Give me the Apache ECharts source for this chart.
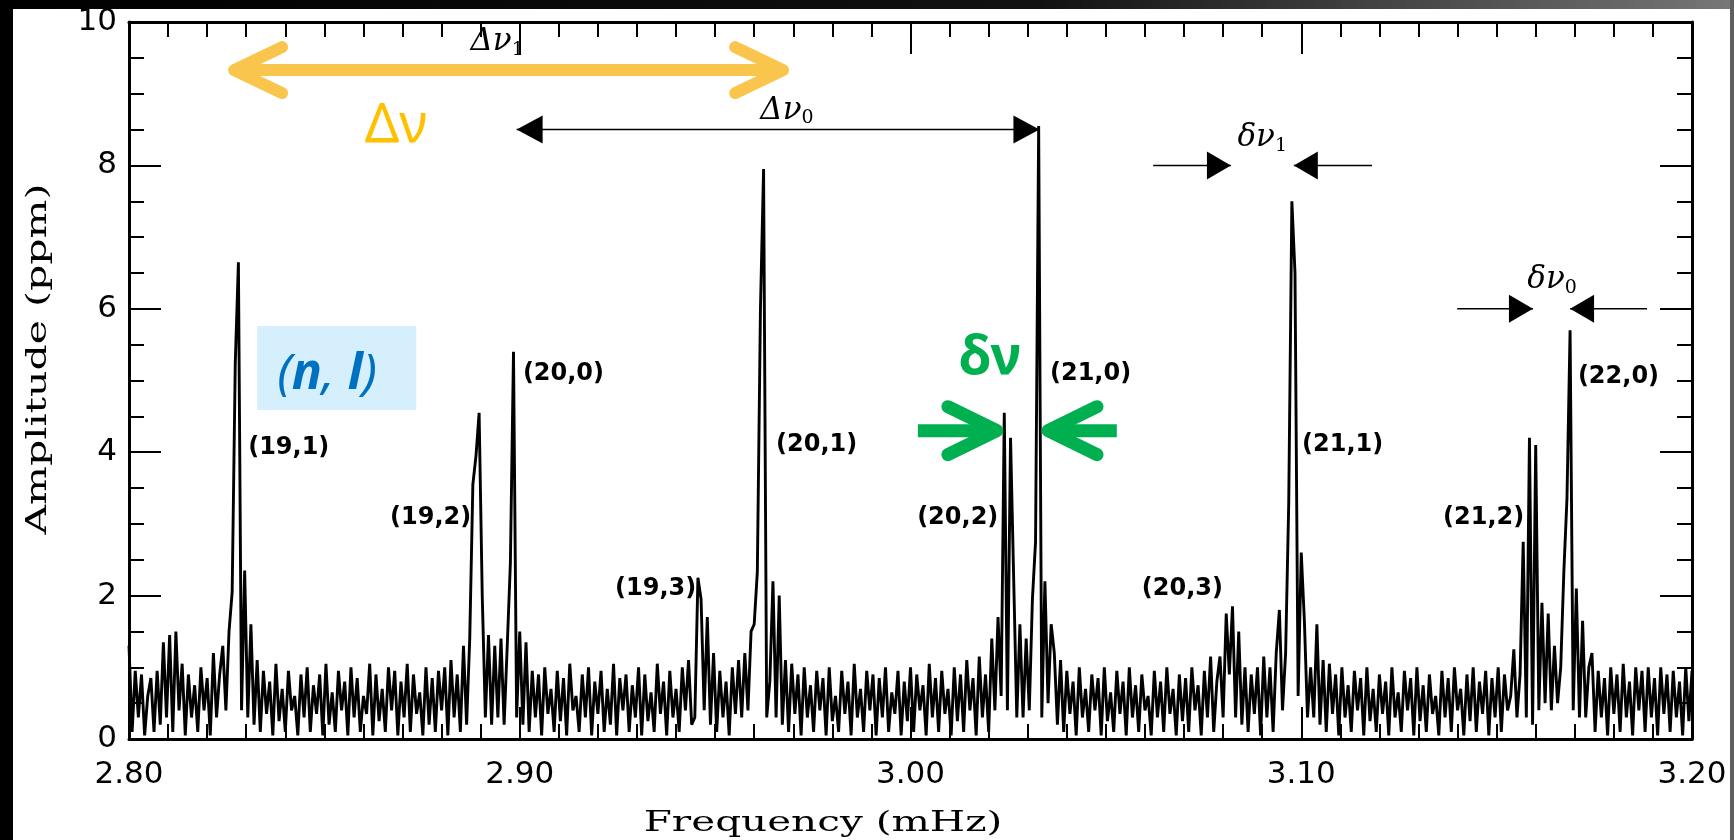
<!DOCTYPE html>
<html>
<head>
<meta charset="utf-8">
<script src="https://cdn.jsdelivr.net/npm/echarts@6/dist/echarts.min.js"></script>
<style>
  html, body { margin: 0; padding: 0; background: #000; }
  #chart { width: 1734px; height: 840px; }
</style>
</head>
<body>
<div id="chart"></div>
<script>
// frequency grid (mHz) and amplitude spectrum (ppm)
const freqStart = 2.80;
const freqStep = 0.0008;
const amplitude = [
  1.3, 0.1, 0.95, 0.3, 0.9, 0.05, 0.6, 0.85, 0.1, 0.95,
  0.2, 1.35, 0.3, 1.45, 0.1, 1.5, 0.4, 1.05, 0.05, 0.9,
  0.3, 0.75, 0.1, 1.0, 0.4, 0.85, 0.05, 1.2, 0.3, 0.9,
  1.3, 0.4, 1.5, 2.05, 5.25, 6.65, 0.4, 2.35, 0.3, 1.6,
  0.2, 1.1, 0.1, 0.95, 0.35, 0.8, 0.05, 1.05, 0.25, 0.7,
  0.1, 0.95, 0.4, 0.6, 0.05, 0.9, 0.3, 1.0, 0.1, 0.75,
  0.35, 0.9, 0.05, 1.05, 0.2, 0.65, 0.1, 0.95, 0.4, 0.8,
  0.05, 1.0, 0.3, 0.85, 0.1, 0.6, 0.35, 1.05, 0.05, 0.9,
  0.25, 0.7, 0.1, 1.0, 0.4, 0.95, 0.05, 0.8, 0.3, 1.05,
  0.1, 0.9, 0.35, 0.65, 0.05, 1.0, 0.2, 0.85, 0.1, 0.95,
  0.4, 1.0, 0.05, 1.1, 0.3, 0.9, 0.1, 1.3, 0.2, 1.4,
  3.55, 3.95, 4.55, 2.0, 0.3, 1.45, 0.2, 1.3, 0.3, 1.4,
  0.2, 1.3, 2.45, 5.4, 0.3, 1.5, 0.2, 1.35, 0.1, 0.95,
  0.3, 0.9, 0.05, 1.0, 0.35, 0.7, 0.1, 0.95, 0.25, 0.85,
  0.05, 1.05, 0.4, 0.6, 0.1, 0.9, 0.3, 1.0, 0.05, 0.8,
  0.35, 0.95, 0.1, 0.7, 0.2, 1.05, 0.05, 0.85, 0.4, 0.9,
  0.1, 0.75, 0.3, 1.0, 0.05, 0.9, 0.25, 0.65, 0.1, 1.05,
  0.35, 0.8, 0.05, 0.95, 0.3, 0.7, 0.1, 1.0, 0.4, 1.1,
  0.2, 0.3, 2.25, 1.95, 0.4, 1.7, 0.2, 1.2, 0.1, 0.95,
  0.3, 0.8, 0.05, 1.0, 0.35, 1.1, 0.3, 1.2, 0.4, 1.5,
  1.6, 2.33, 6.0, 7.95, 0.3, 0.8, 2.2, 0.3, 2.0, 0.2,
  1.1, 0.1, 1.05, 0.35, 0.9, 0.05, 1.0, 0.3, 0.75, 0.1,
  0.95, 0.4, 0.85, 0.05, 1.0, 0.25, 0.6, 0.1, 0.95, 0.35,
  0.8, 0.05, 1.05, 0.3, 0.7, 0.1, 0.95, 0.4, 0.9, 0.05,
  0.85, 0.3, 1.0, 0.1, 0.65, 0.35, 0.95, 0.05, 0.8, 0.25,
  1.0, 0.1, 0.9, 0.4, 0.75, 0.05, 1.05, 0.3, 0.85, 0.1,
  0.95, 0.35, 0.7, 0.05, 1.0, 0.25, 0.9, 0.1, 1.1, 0.4,
  0.85, 0.05, 1.15, 0.3, 0.9, 0.1, 1.4, 0.4, 1.7, 0.6,
  4.55, 0.4, 4.2, 2.25, 0.3, 1.6, 0.3, 1.4, 0.4, 1.95,
  2.75, 8.55, 0.3, 2.2, 0.5, 1.6, 1.2, 0.2, 1.1, 0.1,
  0.95, 0.35, 0.8, 0.05, 1.0, 0.3, 0.7, 0.1, 0.9, 0.4,
  0.85, 0.05, 1.0, 0.25, 0.65, 0.1, 0.95, 0.35, 0.8, 0.05,
  1.0, 0.3, 0.75, 0.1, 0.9, 0.4, 0.6, 0.05, 0.95, 0.3,
  0.8, 0.1, 1.0, 0.35, 0.7, 0.05, 0.9, 0.25, 0.85, 0.1,
  1.0, 0.4, 0.75, 0.05, 0.95, 0.3, 1.15, 0.1, 0.8, 1.15,
  0.3, 1.75, 0.9, 1.85, 0.3, 1.5, 0.2, 1.0, 0.1, 0.9,
  0.35, 1.0, 0.05, 1.15, 0.3, 1.0, 0.1, 1.2, 1.8, 0.4,
  1.2, 3.3, 7.5, 6.5, 0.6, 2.6, 1.65, 0.3, 1.0, 0.3,
  1.6, 0.2, 1.1, 0.1, 1.05, 0.35, 0.9, 0.05, 1.0, 0.3,
  0.75, 0.1, 0.95, 0.4, 0.85, 0.05, 1.0, 0.25, 0.7, 0.1,
  0.9, 0.35, 0.8, 0.05, 1.0, 0.3, 0.65, 0.1, 0.95, 0.4,
  0.85, 0.05, 1.0, 0.25, 0.75, 0.1, 0.9, 0.35, 0.6, 0.05,
  0.95, 0.3, 0.85, 0.1, 1.0, 0.4, 0.7, 0.05, 0.9, 0.25,
  1.0, 0.1, 0.8, 0.35, 0.95, 0.05, 0.85, 0.3, 1.0, 0.1,
  0.9, 0.4, 0.6, 1.25, 0.3, 0.9, 2.75, 0.3, 4.2, 0.2,
  4.1, 0.4, 1.9, 0.5, 1.75, 0.4, 1.3, 0.5, 1.0, 2.33,
  3.35, 5.7, 0.4, 2.1, 0.3, 1.65, 0.3, 1.0, 1.2, 0.1,
  0.95, 0.3, 0.85, 0.05, 1.0, 0.35, 0.9, 0.1, 1.05, 0.3,
  0.8, 0.05, 1.0, 0.4, 0.95, 0.1, 1.0, 0.3, 0.85, 0.05,
  1.0, 0.35, 0.9, 0.1, 0.95, 0.3, 0.8, 0.05, 1.0, 0.25,
  0.95
];

// mode labels (n,l) and where they sit (frequency, amplitude)
const modeLabels = ['(19,1)', '(19,2)', '(20,0)', '(19,3)', '(20,1)', '(20,2)', '(21,0)', '(20,3)', '(21,1)', '(21,2)', '(22,0)'];
const modeLabelFreq = [2.8305, 2.8668, 2.9008, 2.9244, 2.9656, 3.0017, 3.0357, 3.0592, 3.1002, 3.1363, 3.1708];
const modeLabelAmp = [4.06, 3.08, 5.10, 2.09, 4.10, 3.08, 5.10, 2.09, 4.10, 3.08, 5.05];

// separation markers
const bigSepFreq = [2.8992, 3.0330];      // Δν0 arrow ends
const bigSepAmp = 8.5;
const bigSep1Freq = [2.8269, 2.9674];     // Δν1 / orange Δν arrow ends
const bigSep1Amp = 9.33;
const small1Freq = [3.0621, 3.0820, 3.0981, 3.1181]; // δν1: line start, tip, tip, line end
const small1Amp = 8.0;
const small0Freq = [3.1399, 3.1593, 3.1688, 3.1885]; // δν0
const small0Amp = 6.0;
const greenFreq = [3.0019, 3.0221, 3.0352, 3.0528];  // green δν arrows
const greenAmp = 4.30;

const seriesData = amplitude.map((v, i) => [+(freqStart + i * freqStep).toFixed(4), v]);

const chart = echarts.init(document.getElementById('chart'), null, { renderer: 'canvas' });

const axisCommon = {
  type: 'value',
  axisLine: { show: true, onZero: false, lineStyle: { color: '#000', width: 3 } },
  axisTick: { show: true, inside: true, length: 32, lineStyle: { color: '#000', width: 2 } },
  minorTick: { show: true, length: 15, lineStyle: { color: '#000', width: 2 } },
  splitLine: { show: false },
};

const tickFont = { color: '#000', fontSize: 31, fontFamily: 'DejaVu Sans' };

chart.setOption({
  animation: false,
  backgroundColor: '#fff',
  grid: { left: 129, right: 42, top: 22, bottom: 101 },
  xAxis: [
    {
      ...axisCommon,
      position: 'bottom',
      min: 2.8, max: 3.2, interval: 0.1,
      minorTick: { ...axisCommon.minorTick, splitNumber: 10 },
      axisLabel: { ...tickFont, margin: 20, formatter: (v) => v.toFixed(2) },
    },
    {
      ...axisCommon,
      position: 'top',
      min: 2.8, max: 3.2, interval: 0.1,
      minorTick: { ...axisCommon.minorTick, splitNumber: 10 },
      axisLabel: { show: false },
    },
  ],
  yAxis: [
    {
      ...axisCommon,
      position: 'left',
      min: 0, max: 10, interval: 2,
      minorTick: { ...axisCommon.minorTick, splitNumber: 4 },
      axisLabel: { ...tickFont, margin: 12 },
    },
    {
      ...axisCommon,
      position: 'right',
      min: 0, max: 10, interval: 2,
      minorTick: { ...axisCommon.minorTick, splitNumber: 4 },
      axisLabel: { show: false },
    },
  ],
  series: [
    {
      type: 'line',
      xAxisIndex: 0,
      yAxisIndex: 0,
      data: seriesData,
      symbol: 'none',
      sampling: null,
      lineStyle: { color: '#000', width: 2.9 },
      z: 3,
    },
  ],
});

// annotations placed through the grid's coordinate system
const P = (x, y) => chart.convertToPixel({ gridIndex: 0 }, [x, y]);

const triangle = (tip, dir, len = 24, half = 14) => ({
  type: 'polygon',
  z: 20,
  shape: { points: [tip, [tip[0] - dir * len, tip[1] - half], [tip[0] - dir * len, tip[1] + half]] },
  style: { fill: '#000' },
});

const thinLine = (a, b) => ({
  type: 'line',
  z: 19,
  shape: { x1: a[0], y1: a[1], x2: b[0], y2: b[1] },
  style: { stroke: '#000', lineWidth: 1.5 },
});

const chevron = (tip, dir, color, len = 48, half = 23, w = 13) => ({
  type: 'polyline',
  z: 30,
  shape: { points: [[tip[0] - dir * len, tip[1] - half], tip, [tip[0] - dir * len, tip[1] + half]] },
  style: { stroke: color, lineWidth: w, lineCap: 'round', lineJoin: 'round', fill: null },
});

const thickLine = (a, b, color, w = 13) => ({
  type: 'line',
  z: 30,
  shape: { x1: a[0], y1: a[1], x2: b[0], y2: b[1] },
  style: { stroke: color, lineWidth: w, lineCap: 'butt' },
});

const greekLabel = (pos, main, sub) => ({
  type: 'text',
  z: 25,
  x: pos[0],
  y: pos[1],
  style: {
    text: '{g|' + main + '}{s|' + sub + '}',
    align: 'center',
    verticalAlign: 'middle',
    rich: {
      g: { fontSize: 31, fontStyle: 'italic', fontFamily: 'DejaVu Serif', fill: '#000', lineHeight: 34 },
      s: { fontSize: 19, fontFamily: 'DejaVu Serif', fill: '#000', verticalAlign: 'bottom', lineHeight: 14 },
    },
  },
});

function buildAnnotations() {
  const g = [];
  const orange = '#F9C54D';
  const green = '#00B050';

  // axis titles (wide plotter lettering)
  g.push({
    type: 'text', z: 10, x: 823, y: 824, scaleX: 1.5,
    style: { text: 'Frequency (mHz)', fill: '#000', fontSize: 27, fontFamily: 'DejaVu Serif', align: 'center', verticalAlign: 'middle' },
  });
  g.push({
    type: 'text', z: 10, x: 39, y: 359, rotation: Math.PI / 2, scaleX: 1.52,
    style: { text: 'Amplitude (ppm)', fill: '#000', fontSize: 27, fontFamily: 'DejaVu Serif', align: 'center', verticalAlign: 'middle' },
  });

  // black Δν0 arrow
  const b0 = P(bigSepFreq[0], bigSepAmp), b1 = P(bigSepFreq[1], bigSepAmp);
  g.push(thinLine(b0, b1), triangle(b0, -1, 26, 14), triangle(b1, 1, 26, 14));
  g.push(greekLabel(P(2.9684, 8.76), 'Δν', '0'));

  // black Δν1 head hidden below the orange arrow
  const o0 = P(bigSep1Freq[0], bigSep1Amp), o1 = P(bigSep1Freq[1], bigSep1Amp);
  g.push(triangle(o1, 1, 24, 13));
  g.push(greekLabel(P(2.8942, 9.72), 'Δν', '1'));

  // orange Δν double arrow
  g.push(thickLine(o0, o1, orange, 12), chevron(o0, -1, orange, 48, 23, 12), chevron(o1, 1, orange, 48, 23, 12));
  const dl = P(2.8683, 8.535);
  g.push({
    type: 'text', z: 31, x: dl[0], y: dl[1],
    style: { text: 'Δν', fill: '#FFC000', fontSize: 54, fontFamily: 'Noto Sans', align: 'center', verticalAlign: 'middle' },
  });

  // δν1 arrows
  const s1 = small1Freq.map((f) => P(f, small1Amp));
  g.push(thinLine(s1[0], s1[1]), triangle(s1[1], 1), thinLine(s1[2], s1[3]), triangle(s1[2], -1));
  g.push(greekLabel(P(3.0900, 8.38), 'δν', '1'));

  // δν0 arrows
  const s0 = small0Freq.map((f) => P(f, small0Amp));
  g.push(thinLine(s0[0], s0[1]), triangle(s0[1], 1), thinLine(s0[2], s0[3]), triangle(s0[2], -1));
  g.push(greekLabel(P(3.1642, 6.40), 'δν', '0'));

  // green δν arrows
  const gr = greenFreq.map((f) => P(f, greenAmp));
  g.push(thickLine(gr[0], gr[1], green), chevron(gr[1], 1, green, 49, 24));
  g.push(thickLine(gr[2], gr[3], green), chevron(gr[2], -1, green, 49, 24));
  const gl = P(3.0203, 5.30);
  g.push({
    type: 'text', z: 31, x: gl[0], y: gl[1],
    style: { text: 'δν', fill: green, fontSize: 54, fontWeight: 'bold', fontFamily: 'Noto Sans', align: 'center', verticalAlign: 'middle' },
  });

  // (n, l) box
  const r0 = P(2.8328, 5.76), r1 = P(2.8735, 4.59);
  g.push({
    type: 'rect', z: 15,
    shape: { x: r0[0], y: r0[1], width: r1[0] - r0[0], height: r1[1] - r0[1] },
    style: { fill: '#D6EFFC' },
  });
  const nl = P(2.8507, 5.08);
  g.push({
    type: 'text', z: 16, x: nl[0], y: nl[1],
    style: {
      text: '{p|(}{v|n}{p|, }{v|l}{p|)}',
      align: 'center', verticalAlign: 'middle',
      rich: {
        p: { fontSize: 50, fontFamily: 'Noto Sans', fontStyle: 'italic', fill: '#0070C0' },
        v: { fontSize: 50, fontFamily: 'Noto Sans', fontStyle: 'italic', fontWeight: 'bold', fill: '#0070C0' },
      },
    },
  });

  // (n,l) mode labels
  modeLabels.forEach((t, i) => {
    const p = P(modeLabelFreq[i], modeLabelAmp[i]);
    g.push({
      type: 'text', z: 18, x: p[0], y: p[1],
      style: { text: t, fill: '#000', fontSize: 24, fontWeight: 'bold', fontFamily: 'DejaVu Sans', align: 'left', verticalAlign: 'middle' },
    });
  });

  // slide frame around the figure
  g.push({ type: 'rect', z: 50, shape: { x: 0, y: 0, width: 13, height: 840 }, style: { fill: '#000' } });
  g.push({
    type: 'rect', z: 50, shape: { x: 0, y: 0, width: 1734, height: 9 },
    style: {
      fill: new echarts.graphic.LinearGradient(0, 0, 1, 0, [
        { offset: 0, color: '#000' }, { offset: 0.6, color: '#111' }, { offset: 1, color: '#777' },
      ]),
    },
  });
  g.push({ type: 'rect', z: 50, shape: { x: 1730, y: 0, width: 4, height: 840 }, style: { fill: '#5f5f5f' } });

  return g;
}

chart.setOption({ graphic: buildAnnotations() });
</script>
</body>
</html>
